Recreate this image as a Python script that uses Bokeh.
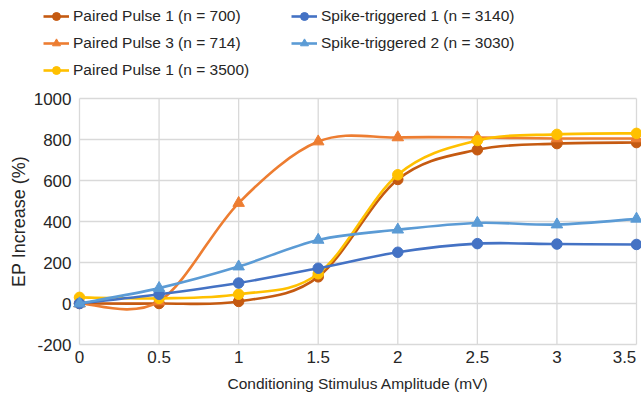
import numpy as np
from bokeh.plotting import figure
from bokeh.models import Legend, LegendItem, ColumnDataSource, Range1d
from bokeh.core.properties import value
from bokeh.embed import file_html
from bokeh.resources import INLINE

# ---- data ----
x_vals = [0, 0.5, 1, 1.5, 2, 2.5, 3, 3.5]
pp1_700 = [0, 0, 10, 130, 605, 750, 780, 785]
pp3_714 = [0, 10, 490, 790, 810, 810, 805, 805]
pp1_3500 = [30, 25, 45, 145, 628, 795, 825, 830]
st1_3140 = [0, 45, 100, 172, 250, 292, 290, 288]
st2_3030 = [0, 75, 180, 310, 360, 393, 385, 413]

series_names = ["Paired Pulse 1 (n = 700)", "Paired Pulse 3 (n = 714)",
                "Paired Pulse 1 (n = 3500)", "Spike-triggered 1 (n = 3140)",
                "Spike-triggered 2 (n = 3030)"]
series_vals = [pp1_700, pp3_714, pp1_3500, st1_3140, st2_3030]
series_colors = ["#C55A11", "#ED7D31", "#FFC000", "#4472C4", "#5B9BD5"]
series_markers = ["circle", "triangle", "circle", "circle", "triangle"]

x_ticks = [0, 0.5, 1, 1.5, 2, 2.5, 3, 3.5]
x_tick_labels = ["0", "0.5", "1", "1.5", "2", "2.5", "3", "3.5"]
y_ticks = [-200, 0, 200, 400, 600, 800, 1000]
y_tick_labels = ["-200", "0", "200", "400", "600", "800", "1000"]
x_title = "Conditioning Stimulus Amplitude (mV)"
y_title = "EP Increase (%)"

FONT = "Liberation Sans"
TXT = "#262626"
GRID = "#D9D9D9"
LINE_W = 2.6

# ---- layout (pixels) ----
W, H = 641, 399
PL, PR, PT, PB = 79, 636, 98, 344      # plot area edges in the picture

xlo, xhi = x_ticks[0], x_ticks[-1]
ylo, yhi = y_ticks[0], y_ticks[-1]
xs_per_px = (xhi - xlo) / (PR - PL)
ys_per_px = (yhi - ylo) / (PB - PT)
x_range = Range1d(xlo - PL * xs_per_px, xhi + (W - PR) * xs_per_px)
y_range = Range1d(ylo - (H - PB) * ys_per_px, yhi + PT * ys_per_px)

p = figure(width=W, height=H, output_backend="svg", toolbar_location=None,
           x_range=x_range, y_range=y_range,
           min_border_left=0, min_border_right=0, min_border_top=0,
           min_border_bottom=0, x_axis_type=None, y_axis_type=None)
p.outline_line_color = None
p.background_fill_color = "white"
p.border_fill_color = "white"
p.xgrid.visible = False
p.ygrid.visible = False

# grid lines
p.segment(x0=x_ticks, y0=[ylo] * len(x_ticks), x1=x_ticks, y1=[yhi] * len(x_ticks),
          line_color=GRID, line_width=1.3)
p.segment(x0=[xlo] * len(y_ticks), y0=y_ticks, x1=[xhi] * len(y_ticks), y1=y_ticks,
          line_color=GRID, line_width=1.3)

# tick labels
p.text(x=[xlo] * len(y_ticks), y=y_ticks, text=y_tick_labels, x_offset=-8,
       text_align="right", text_baseline="middle", text_font=value(FONT),
       text_font_size="17px", text_color=TXT)
# the last x label is pulled inside the picture, as in the reference
xlab_src = ColumnDataSource(dict(
    x=x_ticks, y=[ylo] * len(x_ticks), text=x_tick_labels,
    dx=[0] * (len(x_ticks) - 1) + [-12]))
p.text(x="x", y="y", text="text", x_offset="dx", y_offset=6, source=xlab_src,
       text_align="center", text_baseline="top", text_font=value(FONT),
       text_font_size="17px", text_color=TXT)

# axis titles
p.text(x=[(xlo + xhi) / 2], y=[ylo], text=[x_title], y_offset=39,
       text_align="center", text_baseline="middle", text_font=value(FONT),
       text_font_size="15.5px", text_color=TXT)
p.text(x=[xlo], y=[(ylo + yhi) / 2], text=[y_title], x_offset=-61, angle=np.pi / 2,
       text_align="center", text_baseline="middle", text_font=value(FONT),
       text_font_size="18px", text_color=TXT)


def bezier_source(xs, ys):
    xs = np.asarray(xs, float)
    ys = np.asarray(ys, float)
    n = len(xs)
    x0, y0, x1, y1, cx0, cy0, cx1, cy1 = ([] for _ in range(8))
    for i in range(n - 1):
        ip = max(i - 1, 0)
        inn = min(i + 2, n - 1)
        x0.append(xs[i]); y0.append(ys[i])
        x1.append(xs[i + 1]); y1.append(ys[i + 1])
        cx0.append(xs[i] + (xs[i + 1] - xs[ip]) / 6)
        cy0.append(ys[i] + (ys[i + 1] - ys[ip]) / 6)
        cx1.append(xs[i + 1] - (xs[inn] - xs[i]) / 6)
        cy1.append(ys[i + 1] - (ys[inn] - ys[i]) / 6)
    return ColumnDataSource(dict(x0=x0, y0=y0, x1=x1, y1=y1,
                                 cx0=cx0, cy0=cy0, cx1=cx1, cy1=cy1))


items = []
for name, vals, col, mk in zip(series_names, series_vals, series_colors, series_markers):
    src = bezier_source(x_vals, vals)
    br = p.bezier(x0="x0", y0="y0", x1="x1", y1="y1", cx0="cx0", cy0="cy0",
                  cx1="cx1", cy1="cy1", source=src, line_color=col, line_width=LINE_W)
    size = 10.5 if mk == "circle" else 11.5
    sr = p.scatter(x_vals, vals, marker=mk, size=size, fill_color=col,
                   line_color=col, line_width=1)
    items.append(LegendItem(label=name, renderers=[br, sr]))


def make_legend(its, loc):
    return Legend(items=its, location=loc, orientation="vertical",
                  border_line_color=None, background_fill_alpha=0,
                  padding=0, margin=0, spacing=7, label_standoff=4,
                  glyph_width=26, glyph_height=20, label_height=20,
                  label_text_font=FONT, label_text_font_size="15.5px",
                  label_text_color=TXT, label_text_baseline="middle")


# location = (left, bottom) in pixels from the canvas' bottom-left corner
p.add_layout(make_legend(items[:3], (43, H - 6 - 74)), "center")
p.add_layout(make_legend(items[3:], (291, H - 6 - 47)), "center")

open("out.html", "w").write(file_html(p, INLINE))
